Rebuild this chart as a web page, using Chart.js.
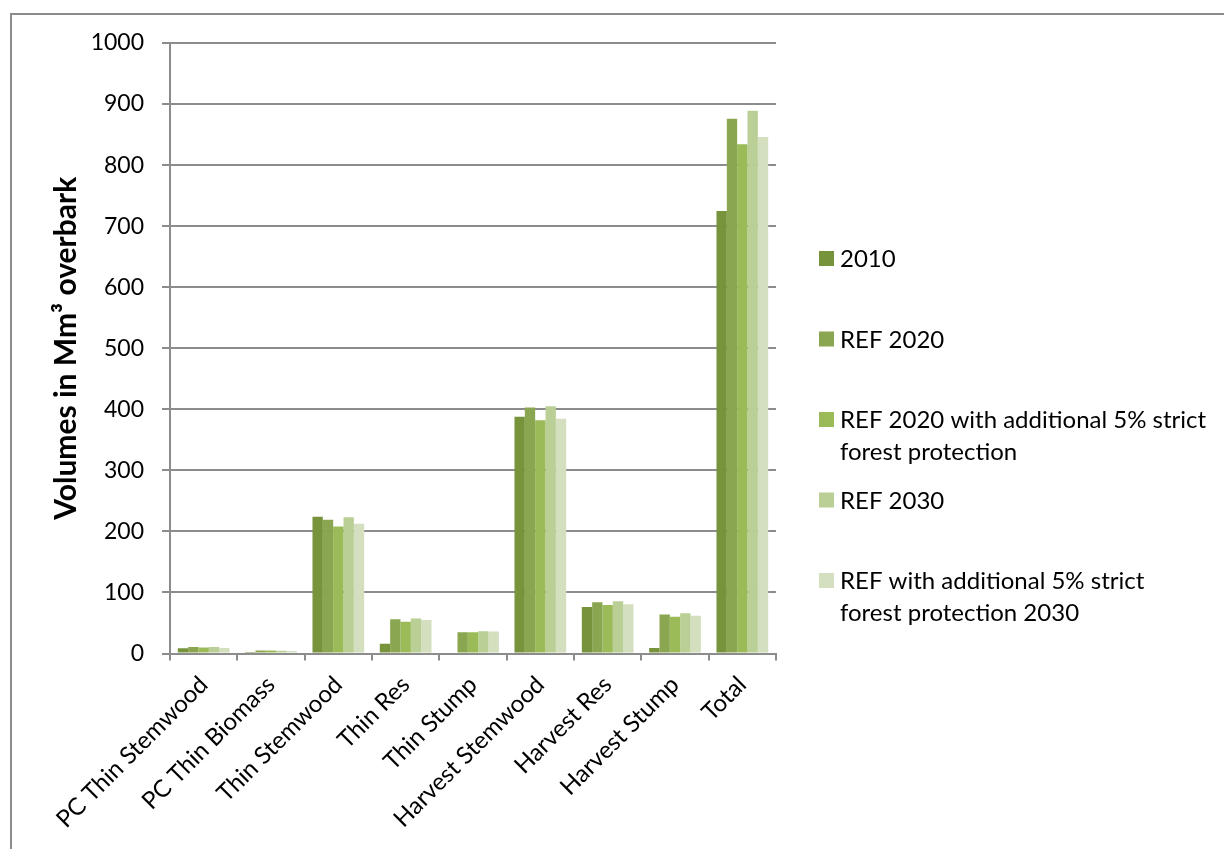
<!DOCTYPE html>
<html>
<head>
<meta charset="utf-8">
<script src="https://cdn.jsdelivr.net/npm/chart.js@4.4.0/dist/chart.umd.min.js"></script>
<style>
  html, body { margin: 0; padding: 0; background: #fff; }
  #wrap { position: relative; width: 1224px; height: 849px; overflow: hidden; }
  #frame { position: absolute; left: 10px; top: 13px; width: 1300px; height: 900px; border: 2px solid #8c8c8c; box-sizing: border-box; }
  canvas { position: absolute; left: 0; top: 0; }
</style>
</head>
<body>
<div id="wrap">
  <div id="frame"></div>
  <canvas id="c" width="1224" height="849"></canvas>
</div>
<script>
const categories = ['PC Thin Stemwood', 'PC Thin Biomass', 'Thin Stemwood', 'Thin Res', 'Thin Stump', 'Harvest Stemwood', 'Harvest Res', 'Harvest Stump', 'Total'];
const seriesNames = ['2010', 'REF 2020', 'REF 2020 with additional 5% strict forest protection', 'REF 2030', 'REF with additional 5% strict forest protection 2030'];
const legendLines = [['2010'], ['REF 2020'], ['REF 2020 with additional 5% strict', 'forest protection'], ['REF 2030'], ['REF with additional 5% strict', 'forest protection 2030']];
const v2010      = [8.5, 2.5, 224, 16, 0, 388, 76, 9, 725];
const vRef2020   = [10.5, 5, 219, 56, 34.7, 403, 84, 64, 876];
const vRef2020p5 = [10, 5, 208, 52, 34.7, 382, 79.5, 60, 834];
const vRef2030   = [10.5, 4.5, 223, 57.5, 36.4, 405, 85.5, 66, 889];
const vRef2030p5 = [9, 4, 212.5, 55, 36, 384.5, 80.5, 62, 846];
const yTicks = [0, 100, 200, 300, 400, 500, 600, 700, 800, 900, 1000];
const colors = ['#77933c', '#8ba651', '#9bbb59', '#b9cf96', '#d3dfbf'];

const seriesValues = [v2010, vRef2020, vRef2020p5, vRef2030, vRef2030p5];
const FONT = 'Lato, "Open Sans", sans-serif';

const legendPlugin = {
  id: 'sideLegend',
  afterDraw(chart) {
    const ctx = chart.ctx;
    ctx.save();
    ctx.font = '24px ' + FONT;
    ctx.textBaseline = 'alphabetic';
    ctx.textAlign = 'left';
    const x0 = 819, top0 = 251, step = 80.5, box = 15, lh = 31.5;
    legendLines.forEach((lines, i) => {
      const y = top0 + i * step;
      ctx.fillStyle = colors[i];
      ctx.fillRect(x0, y, box, box);
      ctx.fillStyle = '#000';
      lines.forEach((t, j) => ctx.fillText(t, x0 + 21, y + 16 + j * lh));
    });
    ctx.restore();
  }
};

new Chart(document.getElementById('c'), {
  type: 'bar',
  data: {
    labels: categories,
    datasets: seriesNames.map((n, i) => ({
      label: n,
      data: seriesValues[i],
      backgroundColor: colors[i],
      borderWidth: 0,
      categoryPercentage: 0.768,
      barPercentage: 1.0
    }))
  },
  options: {
    responsive: false,
    animation: false,
    devicePixelRatio: 1,
    layout: { padding: { top: 43, right: 448, left: 0, bottom: 0 } },
    plugins: { legend: { display: false }, tooltip: { enabled: false } },
    scales: {
      x: {
        offset: true,
        grid: { display: true, drawOnChartArea: false, drawTicks: true, tickLength: 7, color: '#8c8c8c', lineWidth: 2, offset: true },
        border: { display: true, color: '#8c8c8c', width: 2 },
        ticks: { color: '#000', font: { family: FONT, size: 24 }, minRotation: 45, maxRotation: 45, padding: 10, autoSkip: false },
        afterFit(scale) { scale.height = 849 - 653.5; }
      },
      y: {
        min: 0, max: 1000,
        afterBuildTicks(scale) { scale.ticks = yTicks.map(v => ({ value: v })); },
        grid: { color: '#8c8c8c', lineWidth: 2, tickLength: 8, drawTicks: true },
        border: { display: true, color: '#8c8c8c', width: 2 },
        ticks: { color: '#000', font: { family: FONT, size: 23 }, padding: 18, callback: (v) => String(v) },
        title: { display: true, text: 'Volumes in Mm³ overbark', color: '#000', font: { family: FONT, size: 30, weight: 'bold' }, padding: { top: 48, bottom: 0 } },
        afterFit(scale) { scale.width = 170; }
      }
    }
  },
  plugins: [legendPlugin]
});
</script>
</body>
</html>
